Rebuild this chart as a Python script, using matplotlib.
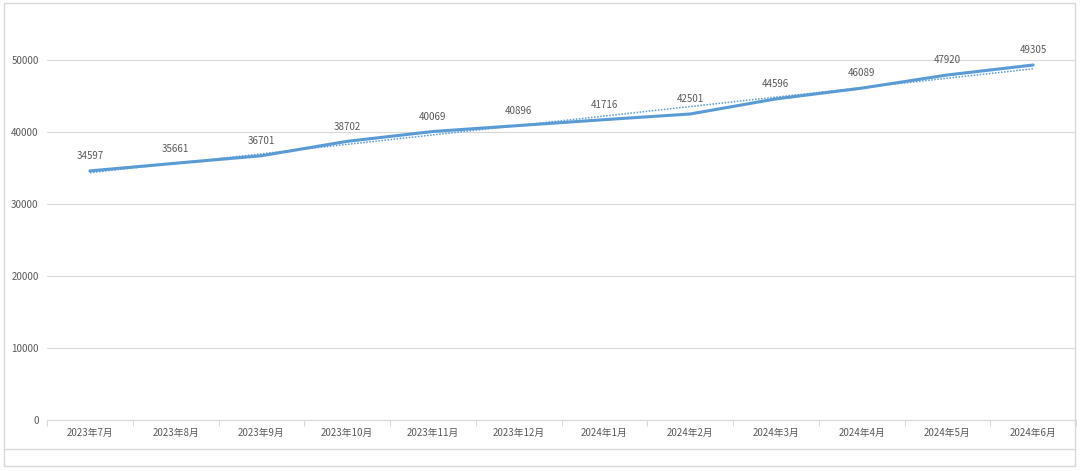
import numpy as np
import matplotlib.pyplot as plt
from matplotlib.patches import Rectangle
from matplotlib.lines import Line2D

plt.rcParams['font.family'] = ['Noto Sans CJK SC', 'DejaVu Sans']

months = ["2023年7月", "2023年8月", "2023年9月", "2023年10月", "2023年11月", "2023年12月",
          "2024年1月", "2024年2月", "2024年3月", "2024年4月", "2024年5月", "2024年6月"]
values = [34597, 35661, 36701, 38702, 40069, 40896, 41716, 42501, 44596, 46089, 47920, 49305]
y_ticks = [0, 10000, 20000, 30000, 40000, 50000]

LINE = "#5b9bd5"
GRID = "#d9d9d9"
TEXT = "#595959"


def main():
    fig = plt.figure(figsize=(10.8, 4.71), dpi=100)
    W, H = 1080, 471

    # chart frame
    fig.patches.append(Rectangle((4 / W, 1 - 466 / H), 1071 / W, 463 / H, transform=fig.transFigure,
                                 fill=False, edgecolor="#d9d9d9", linewidth=1))
    fig.lines.append(Line2D([4 / W, 1075 / W], [1 - 449 / H] * 2, transform=fig.transFigure,
                            color="#d9d9d9", linewidth=1))

    ax = fig.add_axes([47 / W, 1 - 420 / H, 1029 / W, 396 / H])
    x = np.arange(len(months))

    ax.plot(x, values, color=LINE, linewidth=2.2, solid_capstyle="round", zorder=3)
    # linear trendline
    coef = np.polyfit(x, values, 1)
    ax.plot(x, np.polyval(coef, x), color=LINE, linewidth=1.1, linestyle=(0, (1, 1)), zorder=2)

    for xi, v in zip(x, values):
        ax.annotate(str(v), (xi, v), xytext=(0, 7), textcoords="offset points",
                    ha="center", va="bottom", fontsize=7, color=TEXT, fontweight="medium")

    ax.set_xlim(-0.5, len(months) - 0.5)
    ax.set_ylim(0, 55000)
    ax.set_yticks(y_ticks)
    ax.set_yticklabels([str(t) for t in y_ticks], fontweight="medium")
    ax.grid(axis="y", color=GRID, linewidth=0.8)
    ax.set_axisbelow(True)

    ax.set_xticks(x)
    ax.set_xticklabels(months, fontweight="medium")
    ax.set_xticks(np.arange(-0.5, len(months)), minor=True)
    ax.tick_params(axis="x", which="major", length=0, pad=6, labelsize=7, labelcolor=TEXT)
    ax.tick_params(axis="x", which="minor", length=4, color=GRID, width=0.8)
    ax.tick_params(axis="y", length=0, pad=6, labelsize=7, labelcolor=TEXT)

    for side in ["top", "right", "left"]:
        ax.spines[side].set_visible(False)
    ax.spines["bottom"].set_color(GRID)
    ax.spines["bottom"].set_linewidth(0.8)

    fig.savefig("out.png", dpi=100)


if __name__ == "__main__":
    main()
